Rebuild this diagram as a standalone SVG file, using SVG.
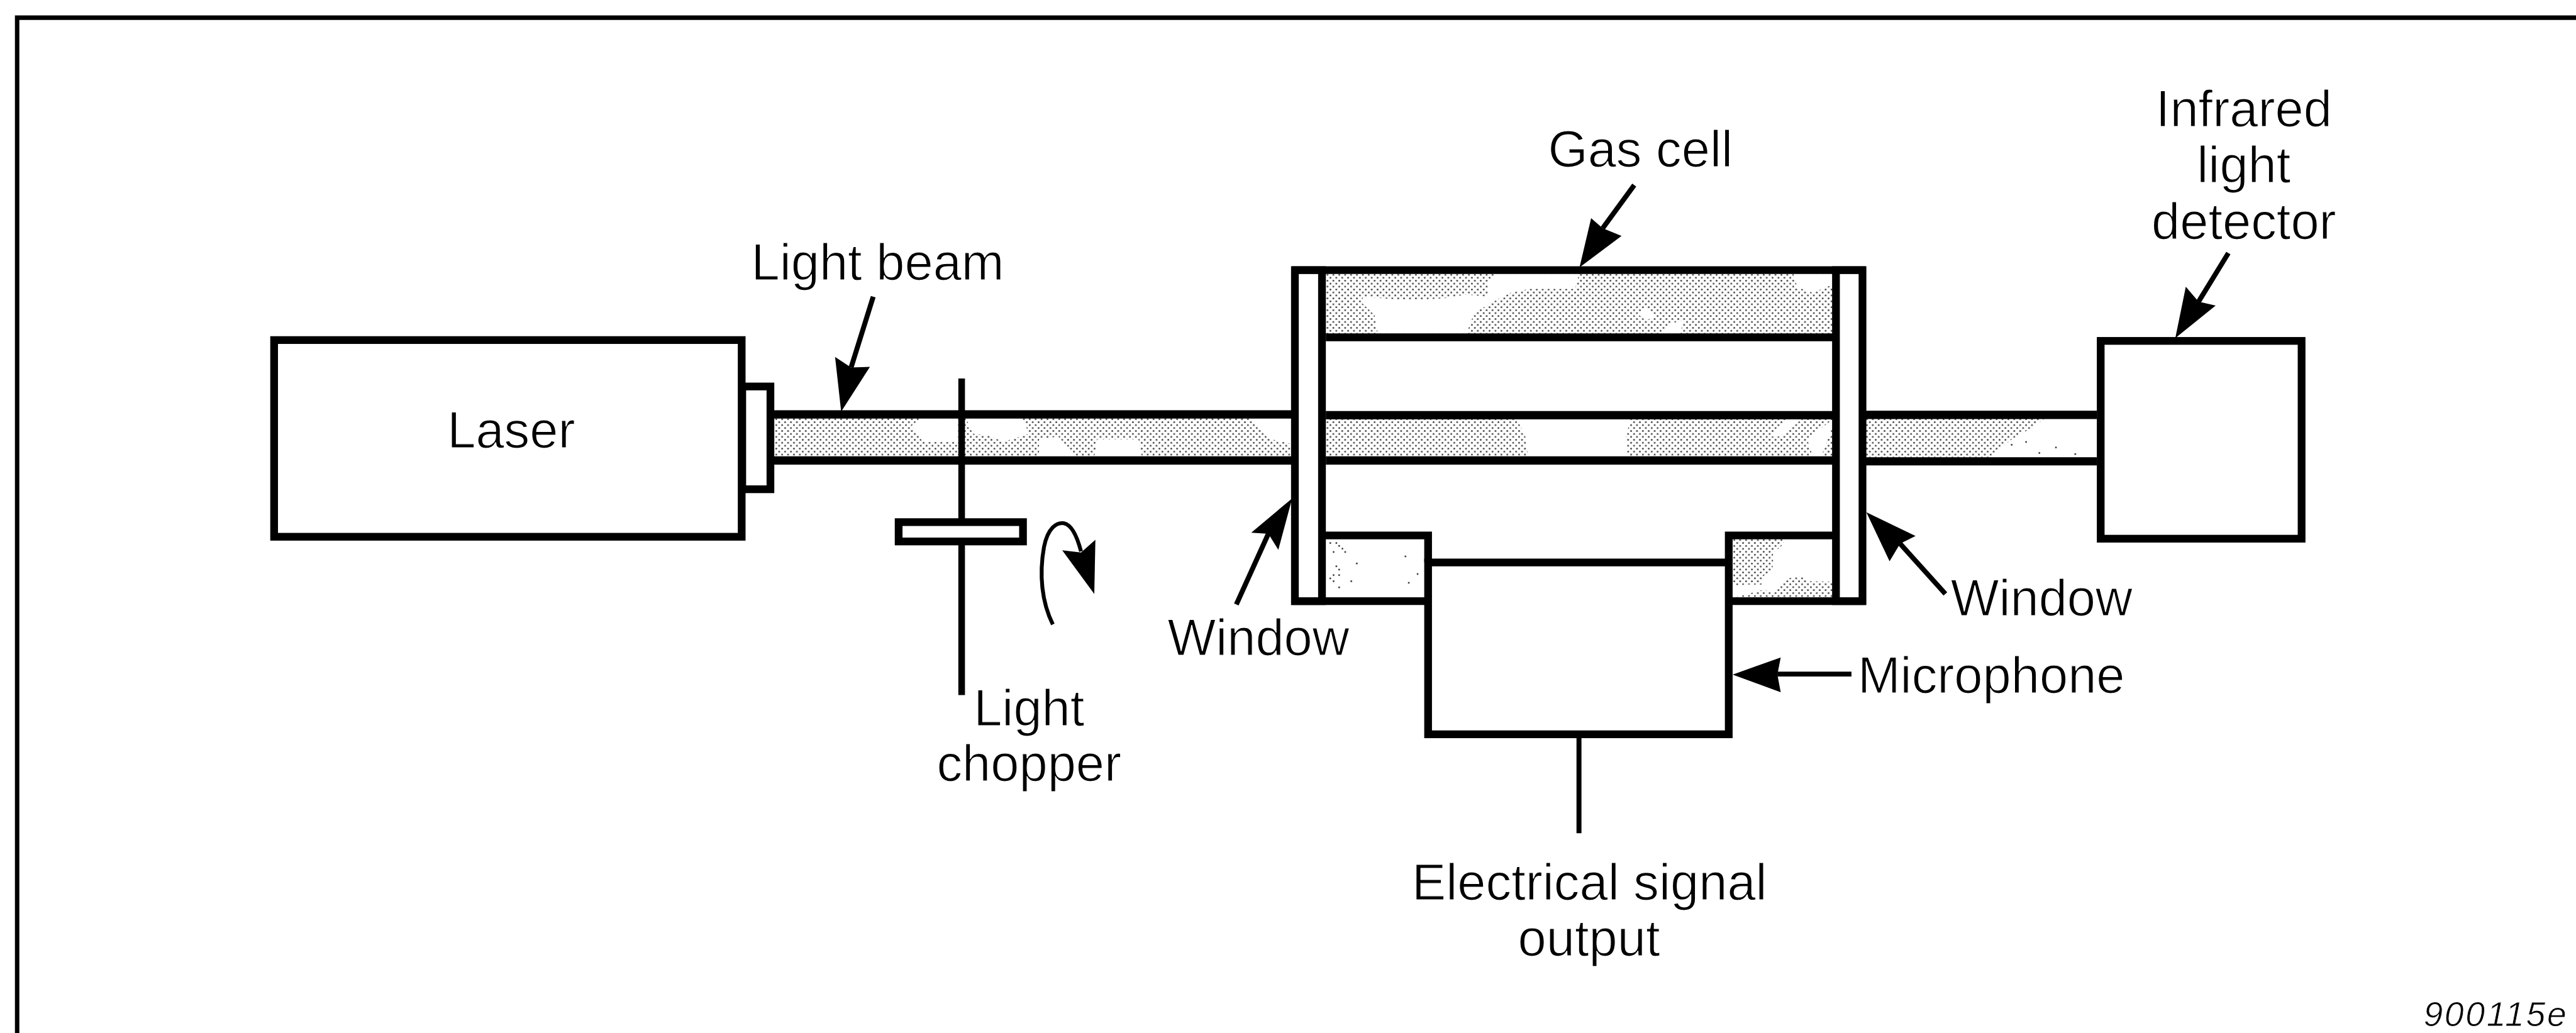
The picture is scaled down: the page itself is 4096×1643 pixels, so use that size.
<svg xmlns="http://www.w3.org/2000/svg" width="4096" height="1643" viewBox="0 0 4096 1643">
<style>
.l{fill:none;stroke:#000;stroke-width:14}
.w{fill:#fff;stroke:#000;stroke-width:14}
.a{fill:none;stroke:#000;stroke-width:9}
.h{fill:#000;stroke:none}
.b{fill:#fff;stroke:none}
.d{fill:#444;stroke:none}
.t{font-family:"Liberation Sans",Arial,sans-serif;font-size:92.500px;fill:#000;stroke:#fff;stroke-width:1.400px;text-anchor:middle}
.r{font-family:"Liberation Sans",Arial,sans-serif;font-size:63px;font-style:italic;letter-spacing:3px;fill:#000;stroke:#fff;stroke-width:1px}
</style>
<defs>
<pattern id="stipple" patternUnits="userSpaceOnUse" x="2404.6" y="500" width="10.667" height="10.667">
<circle class="d" cx="2.67" cy="2.67" r="1.7"/><circle class="d" cx="8" cy="8" r="1.7"/>
</pattern>
</defs>
<rect width="4096" height="1643" fill="#fff"/>
<g transform="scale(0.87878)">
<g id="frame"><path d="M4661 32H31V1870" class="l" style="stroke-width:8"/></g>

<g id="light-beam">
<rect x="1394" y="757" width="942" height="70" fill="url(#stipple)"/>
<path class="b" d="M1665 757H1733V800H1670L1650 770ZM1748 757H1850L1862 785L1815 800L1790 788L1760 785ZM1880 795L1915 790L1945 826H1880ZM1985 795L2060 795L2066 826H1980ZM2262 757H2336V803L2300 795Z"/>
<rect x="3376" y="757" width="418" height="71" fill="url(#stipple)"/>
<path class="b" d="M3700 757H3794V828H3600L3640 795L3680 772Z"/>
<g class="d"><circle cx="3640" cy="805" r="1.7"/><circle cx="3666" cy="800" r="1.7"/><circle cx="3690" cy="820" r="1.7"/><circle cx="3720" cy="810" r="1.7"/><circle cx="3755" cy="822" r="1.7"/></g>
<path class="l" d="M1394 750H2337M1394 833.500H2337M3376 751H3794M3376 835H3794" style="stroke-width:15"/>
</g>

<g id="gas-cell">
<rect x="2399" y="495" width="917" height="110" fill="url(#stipple)"/>
<path class="b" d="M2707 496H2857L2850 523H2767L2733 530L2700 547L2667 567L2660 587L2653 604H2493L2487 570L2463 547L2467 537L2543 543L2613 540L2653 533L2693 537L2693 510ZM2963 568L2980 556L2997 572L2978 580ZM3005 604L3025 585L3046 580L3040 604ZM3245 496H3316V515L3280 530L3252 520Z"/>
<rect x="2399" y="759" width="917" height="68" fill="url(#stipple)"/>
<path class="b" d="M2745 759H2950L2942 790L2945 827H2765L2760 790ZM3235 759H3260L3220 790L3200 790ZM3270 795L3316 759V772L3295 827H3280Z"/>
<g class="d"><circle cx="2407" cy="983" r="1.7"/><circle cx="2418" cy="983" r="1.7"/><circle cx="2423" cy="988" r="1.7"/><circle cx="2429" cy="993" r="1.7"/><circle cx="2413" cy="999" r="1.7"/><circle cx="2434" cy="999" r="1.7"/><circle cx="2455" cy="1020" r="1.7"/><circle cx="2418" cy="1025" r="1.7"/><circle cx="2423" cy="1031" r="1.7"/><circle cx="2413" cy="1041" r="1.7"/><circle cx="2423" cy="1041" r="1.7"/><circle cx="2407" cy="1047" r="1.7"/><circle cx="2413" cy="1052" r="1.7"/><circle cx="2445" cy="1052" r="1.7"/><circle cx="2423" cy="1063" r="1.7"/><circle cx="2543" cy="1007" r="1.7"/><circle cx="2565" cy="1039" r="1.7"/><circle cx="2549" cy="1055" r="1.7"/></g>
<rect x="3135" y="975" width="181" height="107" fill="url(#stipple)"/>
<path class="b" d="M3232 975H3316V1053L3275 1052L3257 1043L3235 1047L3218 1063L3205 1073L3192 1067L3162 1075L3135 1082V1060L3162 1058L3188 1058L3190 1043L3207 1032L3208 1015L3208 1000L3222 990Z"/>
<path class="l" d="M2337 489H3376M2399 610.500H3316M2392 969H2584V1018M3322 969H3128V1018M2337 1088H2584M3128 1088H3376"/>
<path class="l" d="M2399 751.500H3316M2399 833.500H3316" style="stroke-width:15"/>
</g>

<g id="window-left"><rect class="w" x="2343" y="489" width="49" height="599"/></g>
<g id="window-right"><rect class="w" x="3322" y="489" width="48" height="599"/></g>

<g id="laser">
<rect class="w" x="496" y="615.500" width="846" height="356"/>
<rect class="w" x="1343" y="699.500" width="51" height="186"/>
<text class="t" x="925" y="810">Laser</text>
</g>

<g id="light-chopper">
<path class="l" d="M1740 685V1258" style="stroke-width:12"/>
<rect class="w" x="1626" y="945" width="225" height="35"/>
<path class="a" d="M1905 1130C1885 1090 1880 1040 1889 990C1896 955 1912 945 1925 947C1940 950 1950 975 1956 998" style="stroke-width:7"/>
<polygon class="h" points="1980,1075 1922,996 1956,1000 1982,977"/>
<text class="t" x="1862" y="1313">Light</text>
<text class="t" x="1862" y="1413">chopper</text>
</g>

<g id="microphone"><rect class="w" x="2584" y="1018" width="544" height="311"/></g>

<g id="detector"><rect class="w" x="3801" y="617" width="363.500" height="358"/></g>

<g id="connectors">
<path class="a" d="M1580 537L1540 665"/><polygon class="h" points="1522,745 1511,646 1540,665 1574,664"/>
<path class="a" d="M2957 335L2900 413"/><polygon class="h" points="2858,484 2879,395 2900,413 2934,427"/>
<path class="a" d="M4032 458L3978 546"/><polygon class="h" points="3936,612 3955,519 3978,546 4009,553"/>
<path class="a" d="M2237 1094L2295 966"/><polygon class="h" points="2338,902 2264,964 2295,966 2313,995"/>
<path class="a" d="M3520 1075L3438 984"/><polygon class="h" points="3377,927 3419,1016 3438,984 3466,970"/>
<path class="a" d="M3350 1220H3216"/><polygon class="h" points="3135,1221 3222,1190 3216,1221 3222,1253"/>
<path class="a" d="M2857 1336V1508"/>
</g>

<g id="labels">
<text class="t" x="1588" y="506">Light beam</text>
<text class="t" x="2968" y="301">Gas cell</text>
<text class="t" x="4060" y="229">Infrared</text>
<text class="t" x="4060" y="330">light</text>
<text class="t" x="4060" y="432">detector</text>
<text class="t" x="2277" y="1186">Window</text>
<text class="t" x="3694" y="1114">Window</text>
<text class="t" x="3603" y="1254">Microphone</text>
<text class="t" x="2876" y="1628">Electrical signal</text>
<text class="t" x="2875" y="1730">output</text>
<text class="r" x="4385" y="1857">900115e</text>
</g>
</g>
</svg>
